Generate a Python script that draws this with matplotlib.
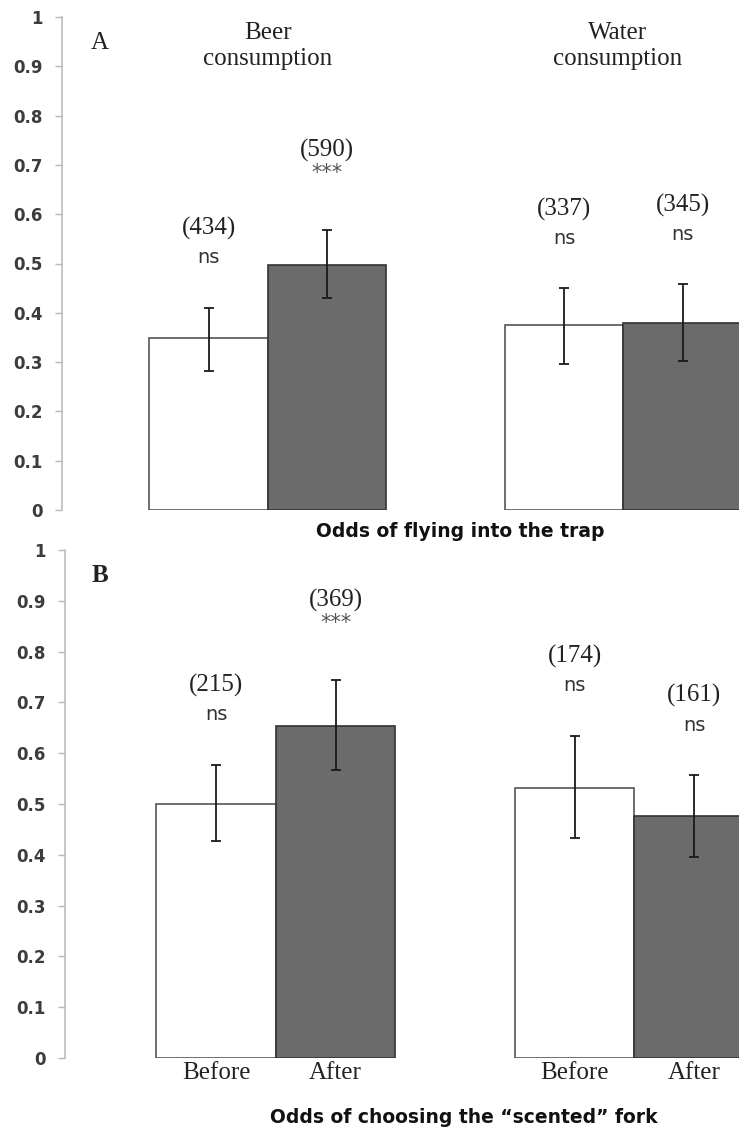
from __future__ import annotations

import matplotlib

matplotlib.use("Agg")
import matplotlib.pyplot as plt
import numpy as np

# positions: beer before/after, water before/after
GROUPS = ["Beer\nconsumption", "Water\nconsumption"]
CONDITIONS = ["Before", "After"]

TRAP_ODDS = [0.349, 0.497, 0.375, 0.380]
TRAP_ERR_LOW = [0.282, 0.430, 0.296, 0.303]
TRAP_ERR_HIGH = [0.410, 0.568, 0.450, 0.458]
TRAP_N = [434, 590, 337, 345]
TRAP_SIG = ["ns", "***", "ns", "ns"]

FORK_ODDS = [0.500, 0.653, 0.531, 0.476]
FORK_ERR_LOW = [0.427, 0.567, 0.433, 0.396]
FORK_ERR_HIGH = [0.577, 0.744, 0.634, 0.557]
FORK_N = [215, 369, 174, 161]
FORK_SIG = ["ns", "***", "ns", "ns"]

Y_TICKS = [0, 0.1, 0.2, 0.3, 0.4, 0.5, 0.6, 0.7, 0.8, 0.9, 1]
Y_TICK_LABELS = ["0", "0.1", "0.2", "0.3", "0.4", "0.5", "0.6", "0.7", "0.8", "0.9", "1"]

SERIF = "Liberation Serif"
SANS = "DejaVu Sans"
FILL = ["white", "#6b6b6b", "white", "#6b6b6b"]
EDGE = ["#555555", "#333333", "#555555", "#333333"]
AXIS_GREY = "#b8b8b8"


def style_axis(ax, xmin: float) -> None:
    ax.set_xlim(xmin, 4.5)
    ax.set_ylim(0, 1)
    for side in ("top", "right", "bottom"):
        ax.spines[side].set_visible(False)
    ax.spines["left"].set_color(AXIS_GREY)
    ax.spines["left"].set_linewidth(1.1)
    ax.set_yticks(Y_TICKS, labels=Y_TICK_LABELS)
    ax.tick_params(axis="y", length=5, width=1, color=AXIS_GREY, pad=9,
                   labelsize=12, labelcolor="#3c3c3c")
    for lab in ax.get_yticklabels():
        lab.set_fontfamily(SANS)
        lab.set_fontweight("bold")


def draw_panel(ax, odds, low, high, counts, sig) -> None:
    x = np.array([0, 1, 3, 4])
    odds = np.asarray(odds)
    yerr = np.vstack([odds - np.asarray(low), np.asarray(high) - odds])
    ax.bar(x, odds, width=1.0, color=FILL, edgecolor=EDGE, linewidth=1.2, zorder=2)
    ax.errorbar(x, odds, yerr=yerr, fmt="none", ecolor="#1a1a1a", elinewidth=1.3,
                capsize=3.6, capthick=1.3, zorder=3)
    for xi, top, n, s in zip(x, high, counts, sig):
        ax.annotate(f"({n})", xy=(xi, top), xytext=(0, 57), textcoords="offset points",
                    ha="center", va="center", fontsize=18, family=SERIF, color="#222222")
        if s == "***":
            ax.annotate(s, xy=(xi, top), xytext=(0, 41), textcoords="offset points",
                        ha="center", va="center", fontsize=15, family=SANS, color="#555555")
        else:
            ax.annotate(s, xy=(xi, top), xytext=(0, 36), textcoords="offset points",
                        ha="center", va="center", fontsize=14, family=SANS, color="#333333")


def main() -> None:
    fig = plt.figure(figsize=(7.39, 11.28), dpi=100)
    ax_a = fig.add_axes([62 / 739, 1 - 510 / 1128, 680 / 739, 493 / 1128])
    ax_b = fig.add_axes([65 / 739, 1 - 1058 / 1128, 689 / 739, 508 / 1128])

    # Panel A: flying into the trap
    style_axis(ax_a, -1.236)
    draw_panel(ax_a, TRAP_ODDS, TRAP_ERR_LOW, TRAP_ERR_HIGH, TRAP_N, TRAP_SIG)
    ax_a.set_xticks([])
    for xc, title in zip([0.5, 3.45], GROUPS):
        ax_a.text(xc, 0.941, title, ha="center", va="center", fontsize=18, family=SERIF,
                  color="#222222", linespacing=1.25)
    ax_a.text(-0.916, 0.947, "A", ha="center", va="center", fontsize=18, family=SERIF,
              color="#222222")
    ax_a.text(2.12, -0.043, "Odds of flying into the trap", ha="center", va="center",
              fontsize=13.5, family=SANS, fontweight="bold", color="#111111", clip_on=False)

    # Panel B: choosing the scented fork
    style_axis(ax_b, -1.264)
    draw_panel(ax_b, FORK_ODDS, FORK_ERR_LOW, FORK_ERR_HIGH, FORK_N, FORK_SIG)
    ax_b.set_xticks([0, 1, 3, 4], labels=CONDITIONS * 2)
    ax_b.tick_params(axis="x", length=0, pad=3, labelsize=18, labelcolor="#222222")
    for lab in ax_b.get_xticklabels():
        lab.set_fontfamily(SERIF)
    ax_b.text(-0.97, 0.949, "B", ha="center", va="center", fontsize=18, family=SERIF,
              fontweight="bold", color="#222222")
    ax_b.text(2.07, -0.118, "Odds of choosing the \u201cscented\u201d fork", ha="center",
              va="center", fontsize=13.5, family=SANS, fontweight="bold", color="#111111",
              clip_on=False)

    fig.savefig("out.png", dpi=100)
    plt.close(fig)


if __name__ == "__main__":
    main()
